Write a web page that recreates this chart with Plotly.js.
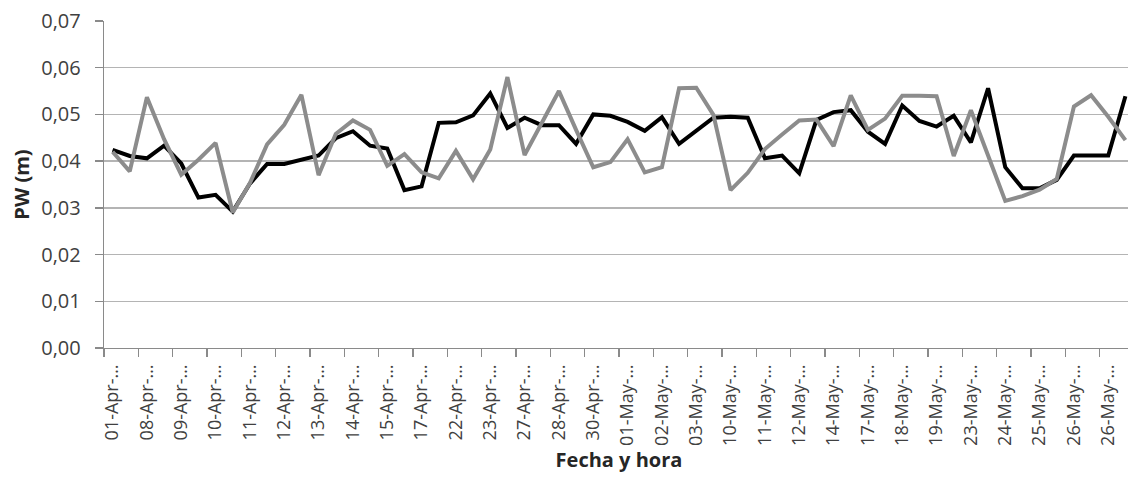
<!DOCTYPE html>
<html>
<head>
<meta charset="utf-8">
<script src="https://cdn.plot.ly/plotly-3.0.1.min.js"></script>
<style>
html, body { margin: 0; padding: 0; overflow: hidden; background: #fff; }
#chart { width: 1134px; height: 478px; }
</style>
</head>
<body>
<div id="chart"></div>
<script>
// Tick labels (every second observation)
const tickLabels = ["01-Apr-…","08-Apr-…","09-Apr-…","10-Apr-…","11-Apr-…","12-Apr-…","13-Apr-…","14-Apr-…",
  "15-Apr-…","17-Apr-…","22-Apr-…","23-Apr-…","27-Apr-…","28-Apr-…","30-Apr-…","01-May-…",
  "02-May-…","03-May-…","10-May-…","11-May-…","12-May-…","14-May-…","17-May-…","18-May-…",
  "19-May-…","23-May-…","24-May-…","25-May-…","26-May-…","26-May-…"];

// Series values (PW in metres), one per observation
const seriesBlack = [0.0424,0.0411,0.0406,0.0433,0.0395,0.0322,0.0328,0.0292,0.0352,0.0394,
  0.0394,0.0402,0.0412,0.0449,0.0464,0.0433,0.0427,0.0338,0.0346,0.0482,
  0.0483,0.0498,0.0545,0.0471,0.0493,0.0477,0.0477,0.0437,0.0500,0.0497,
  0.0484,0.0465,0.0494,0.0437,0.0466,0.0493,0.0495,0.0493,0.0406,0.0412,
  0.0374,0.0488,0.0505,0.0509,0.0463,0.0437,0.0519,0.0486,0.0474,0.0497,
  0.0440,0.0556,0.0387,0.0342,0.0342,0.0360,0.0412,0.0412,0.0412,0.0539];

const seriesGray = [0.0420,0.0378,0.0537,0.0447,0.0371,0.0403,0.0439,0.0290,0.0353,0.0436,
  0.0478,0.0542,0.0370,0.0458,0.0487,0.0467,0.0390,0.0415,0.0376,0.0363,
  0.0422,0.0361,0.0425,0.0580,0.0413,0.0481,0.0550,0.0467,0.0387,0.0398,
  0.0447,0.0376,0.0387,0.0556,0.0557,0.0499,0.0338,0.0375,0.0426,0.0457,
  0.0487,0.0489,0.0432,0.0541,0.0467,0.0491,0.0540,0.0540,0.0539,0.0411,
  0.0509,0.0412,0.0315,0.0325,0.0339,0.0362,0.0517,0.0541,0.0495,0.0445];

const idx = seriesBlack.map((_, i) => i);
const tickVals = tickLabels.map((_, k) => 2 * k);

const font = "'Open Sans', 'Noto Sans', sans-serif";

const traces = [
  { x: idx, y: seriesBlack, type: 'scatter', mode: 'lines',
    line: { color: '#000000', width: 4 }, hoverinfo: 'skip' },
  { x: idx, y: seriesGray, type: 'scatter', mode: 'lines',
    line: { color: '#8c8c8c', width: 4 }, hoverinfo: 'skip' }
];

const layout = {
  width: 1134, height: 478,
  margin: { l: 104, r: 0, t: 21, b: 130 },
  paper_bgcolor: '#ffffff', plot_bgcolor: '#ffffff',
  showlegend: false,
  separators: ', ',
  font: { family: font, color: '#404040' },
  xaxis: {
    range: [-0.5, 59.5],
    tickmode: 'array', tickvals: tickVals, ticktext: tickLabels,
    tickangle: -90,
    ticks: '',
    ticklabelstandoff: 8,
    tickfont: { size: 18, color: '#404040', family: font },
    showgrid: false, zeroline: false,
    showline: true, linecolor: '#8a8a8a', linewidth: 1.3,
    minor: { tickmode: 'linear', tick0: -0.5, dtick: 2, ticks: 'outside', ticklen: 8, tickcolor: '#8a8a8a', tickwidth: 1.3, showgrid: false },
    title: { text: '<b>Fecha y hora</b>', font: { size: 20, color: '#262626', family: font }, standoff: 6 }
  },
  yaxis: {
    range: [0, 0.07],
    tickmode: 'linear', tick0: 0, dtick: 0.01,
    tickformat: '.2f',
    ticks: 'outside', ticklen: 8, tickcolor: '#8a8a8a', tickwidth: 1.3,
    ticklabelstandoff: 10,
    tickfont: { size: 20, color: '#404040', family: font },
    showgrid: true, gridcolor: '#b4b4b4', gridwidth: 1.3,
    zeroline: false,
    showline: true, linecolor: '#8a8a8a', linewidth: 1.3,
    title: { text: '<b>PW (m)</b>', font: { size: 20, color: '#262626', family: font }, standoff: 6 }
  }
};

Plotly.newPlot('chart', traces, layout, { displayModeBar: false, staticPlot: true });
</script>
</body>
</html>
